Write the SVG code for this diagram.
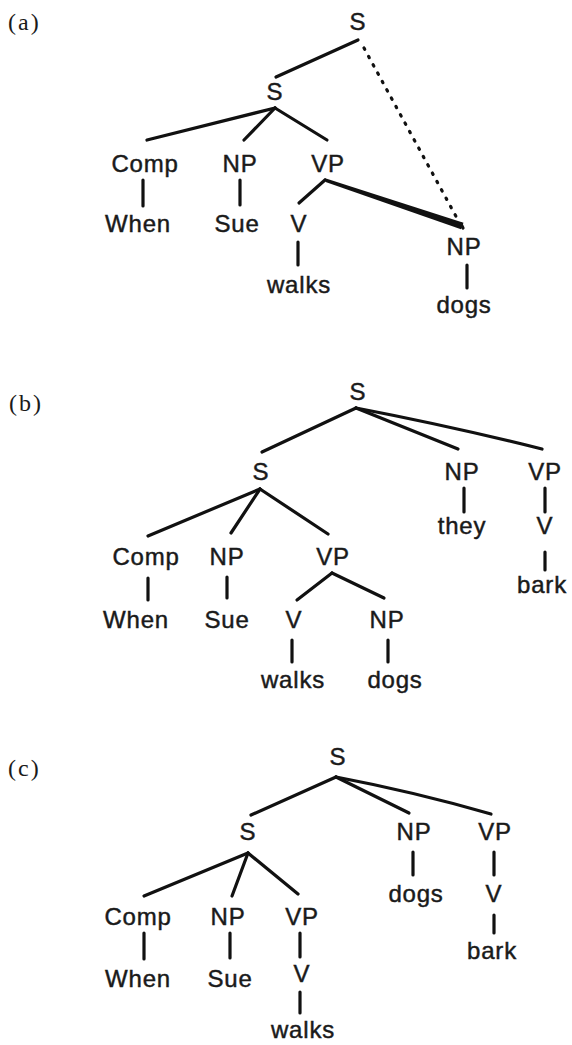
<svg xmlns="http://www.w3.org/2000/svg" width="572" height="1045" viewBox="0 0 572 1045">
<style>
.t{font-family:"Liberation Sans",Arial,sans-serif;font-size:24px;fill:#1a1a1a;stroke:#1a1a1a;stroke-width:0.45px;text-anchor:middle;letter-spacing:0.8px}
.lbl{font-family:"Liberation Serif","Times New Roman",serif;font-size:24px;fill:#1a1a1a;letter-spacing:2px}
.e{stroke:#111;stroke-width:3.2;stroke-linecap:round;fill:none}
.dot{stroke:#111;stroke-width:3.2;stroke-linecap:round;stroke-dasharray:1.5 8;fill:none}
</style>
<rect width="572" height="1045" fill="#fff"/>
<!-- (a) -->
<g id="tree-a">
<text class="lbl" x="8" y="30">(a)</text>
<g id="a-S"><text class="t" x="358" y="30">S</text></g>
<g id="a-S2"><text class="t" x="275" y="100">S</text></g>
<g id="a-Comp"><text class="t" x="145" y="172">Comp</text></g>
<g id="a-NP1"><text class="t" x="240" y="172">NP</text></g>
<g id="a-VP"><text class="t" x="328" y="172">VP</text></g>
<g id="a-When"><text class="t" x="138" y="232">When</text></g>
<g id="a-Sue"><text class="t" x="237" y="232">Sue</text></g>
<g id="a-V"><text class="t" x="299" y="232">V</text></g>
<g id="a-walks"><text class="t" x="299" y="293">walks</text></g>
<g id="a-NP2"><text class="t" x="464" y="255">NP</text></g>
<g id="a-dogs"><text class="t" x="464" y="313">dogs</text></g>
<g id="a-edges">
<line class="e" x1="358" y1="40" x2="276" y2="77"/>
<line class="dot" x1="364" y1="48" x2="458" y2="220"/>
<line class="e" x1="275" y1="108" x2="147" y2="140"/>
<line class="e" x1="275" y1="108" x2="244" y2="140"/>
<line class="e" x1="275" y1="108" x2="327" y2="140"/>
<line class="e" x1="143" y1="180" x2="143" y2="206"/>
<line class="e" x1="240" y1="180" x2="240" y2="205"/>
<line class="e" x1="325" y1="180" x2="299" y2="203"/>
<polygon points="324.4,178.1 325.6,181.9 461,229.3 463.5,222.7" fill="#111"/>
<line class="e" x1="461" y1="224" x2="463" y2="228"/>
<line class="e" x1="298" y1="242" x2="298" y2="265"/>
<line class="e" x1="467" y1="265" x2="467" y2="288"/>
</g>
</g>
<!-- (b) -->
<g id="tree-b">
<text class="lbl" x="9" y="411">(b)</text>
<g id="b-S"><text class="t" x="358" y="400">S</text></g>
<g id="b-S2"><text class="t" x="261" y="480">S</text></g>
<g id="b-NPr"><text class="t" x="462" y="480">NP</text></g>
<g id="b-VPr"><text class="t" x="545" y="480">VP</text></g>
<g id="b-they"><text class="t" x="462" y="534">they</text></g>
<g id="b-Vr"><text class="t" x="545" y="534">V</text></g>
<g id="b-bark"><text class="t" x="542" y="593">bark</text></g>
<g id="b-Comp"><text class="t" x="146" y="565">Comp</text></g>
<g id="b-NP1"><text class="t" x="227" y="565">NP</text></g>
<g id="b-VP"><text class="t" x="333" y="565">VP</text></g>
<g id="b-When"><text class="t" x="136" y="628">When</text></g>
<g id="b-Sue"><text class="t" x="227" y="628">Sue</text></g>
<g id="b-V"><text class="t" x="294" y="628">V</text></g>
<g id="b-NP2"><text class="t" x="387" y="628">NP</text></g>
<g id="b-walks"><text class="t" x="293" y="688">walks</text></g>
<g id="b-dogs"><text class="t" x="395" y="688">dogs</text></g>
<g id="b-edges">
<line class="e" x1="356" y1="408" x2="262" y2="452"/>
<line class="e" x1="356" y1="408" x2="458" y2="449"/>
<path class="e" d="M356,408 Q450,426 542,449"/>
<line class="e" x1="464" y1="488" x2="464" y2="512"/>
<line class="e" x1="545" y1="488" x2="545" y2="512"/>
<line class="e" x1="545" y1="552" x2="545" y2="570"/>
<line class="e" x1="260" y1="489" x2="148" y2="536"/>
<line class="e" x1="260" y1="489" x2="231" y2="533"/>
<line class="e" x1="260" y1="489" x2="328" y2="534"/>
<line class="e" x1="148" y1="578" x2="148" y2="600"/>
<line class="e" x1="227" y1="577" x2="227" y2="598"/>
<line class="e" x1="332" y1="573" x2="297" y2="600"/>
<line class="e" x1="332" y1="573" x2="384" y2="598"/>
<line class="e" x1="292" y1="640" x2="292" y2="662"/>
<line class="e" x1="388" y1="640" x2="388" y2="662"/>
</g>
</g>
<!-- (c) -->
<g id="tree-c">
<text class="lbl" x="8" y="776">(c)</text>
<g id="c-S"><text class="t" x="338" y="765">S</text></g>
<g id="c-S2"><text class="t" x="248" y="840">S</text></g>
<g id="c-NPr"><text class="t" x="414" y="840">NP</text></g>
<g id="c-VPr"><text class="t" x="495" y="840">VP</text></g>
<g id="c-dogs"><text class="t" x="416" y="902">dogs</text></g>
<g id="c-Vr"><text class="t" x="494" y="902">V</text></g>
<g id="c-bark"><text class="t" x="492" y="959">bark</text></g>
<g id="c-Comp"><text class="t" x="138" y="925">Comp</text></g>
<g id="c-NP1"><text class="t" x="228" y="925">NP</text></g>
<g id="c-VP"><text class="t" x="302" y="925">VP</text></g>
<g id="c-When"><text class="t" x="138" y="987">When</text></g>
<g id="c-Sue"><text class="t" x="230" y="987">Sue</text></g>
<g id="c-V"><text class="t" x="302" y="982">V</text></g>
<g id="c-walks"><text class="t" x="303" y="1038">walks</text></g>
<g id="c-edges">
<line class="e" x1="336" y1="777" x2="251" y2="815"/>
<line class="e" x1="336" y1="777" x2="409" y2="813"/>
<path class="e" d="M336,777 Q415,792 491,814"/>
<line class="e" x1="413" y1="852" x2="413" y2="875"/>
<line class="e" x1="494" y1="852" x2="494" y2="875"/>
<line class="e" x1="494" y1="915" x2="494" y2="933"/>
<line class="e" x1="248" y1="853" x2="144" y2="896"/>
<line class="e" x1="248" y1="853" x2="232" y2="896"/>
<line class="e" x1="248" y1="853" x2="298" y2="894"/>
<line class="e" x1="144" y1="933" x2="144" y2="959"/>
<line class="e" x1="230" y1="933" x2="230" y2="958"/>
<line class="e" x1="300" y1="933" x2="300" y2="957"/>
<line class="e" x1="300" y1="992" x2="300" y2="1013"/>
</g>
</g>
</svg>
